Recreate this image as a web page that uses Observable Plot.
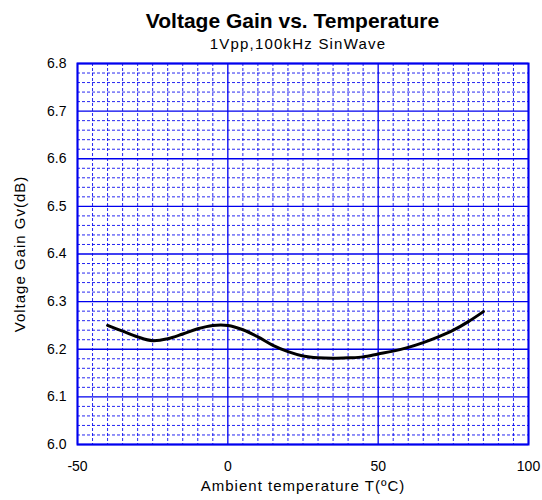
<!DOCTYPE html>
<html>
<head>
<meta charset="utf-8">
<script src="https://cdn.jsdelivr.net/npm/d3@7"></script>
<script src="https://cdn.jsdelivr.net/npm/@observablehq/plot@0.6"></script>
<style>
  html, body { margin: 0; padding: 0; background: #fff; }
  #wrap { position: relative; width: 542px; height: 500px; font-family: "Liberation Sans", Arial, sans-serif; }
  #title { position: absolute; top: 9.5px; left: 0; width: 585px; text-align: center; font-weight: bold; font-size: 21px; line-height: 21px; color: #000; white-space: nowrap; }
  #subtitle { position: absolute; top: 35.6px; left: 0; width: 596px; text-align: center; font-size: 15px; line-height: 15px; letter-spacing: 1.2px; color: #000; white-space: nowrap; }
  #chart { position: absolute; top: 0; left: 0; }
</style>
</head>
<body>
<div id="wrap">
  <div id="chart"></div>
  <div id="title">Voltage Gain vs. Temperature</div>
  <div id="subtitle">1Vpp,100kHz SinWave</div>
</div>
<script>
const temperature = [-40, -35, -30, -25, -20, -15, -10, -5, 0, 5, 10, 15, 20, 25, 30, 35, 40, 45, 50, 55, 60, 65, 70, 75, 80, 85];
const gain = [6.250, 6.238, 6.226, 6.218, 6.222, 6.232, 6.243, 6.250, 6.250, 6.241, 6.226, 6.208, 6.195, 6.186, 6.182, 6.181, 6.182, 6.184, 6.190, 6.196, 6.204, 6.214, 6.226, 6.240, 6.258, 6.279];
const xMajorTicks = [-50, 0, 50, 100];
const yMajorTicks = [6.0, 6.1, 6.2, 6.3, 6.4, 6.5, 6.6, 6.7, 6.8];
const xMinorTicks = d3.range(-45, 100, 5).filter(v => v % 50 !== 0);
const yMinorTicks = d3.range(0, 41).map(i => +(6.0 + i * 0.02).toFixed(2)).filter((v, i) => i % 5 !== 0);
const xLabel = "Ambient temperature T(ºC)";
const yLabel = "Voltage Gain Gv(dB)";

const data = temperature.map((t, i) => ({t, g: gain[i]}));
const blue = "#0000ee";
const labelFont = {fontSize: 15, fill: "#000", fontFamily: "Liberation Sans, Arial, sans-serif"};

const plot = Plot.plot({
  width: 542,
  height: 500,
  marginLeft: 77,
  marginRight: 14,
  marginTop: 63,
  marginBottom: 56,
  style: {fontFamily: "Liberation Sans, Arial, sans-serif", fontSize: "14px", color: "#000", background: "transparent"},
  x: {domain: [-50, 100]},
  y: {domain: [6.0, 6.8]},
  marks: [
    Plot.ruleX(xMinorTicks, {stroke: blue, strokeWidth: 1, strokeDasharray: "3,2", strokeOpacity: 0.85}),
    Plot.ruleY(yMinorTicks, {stroke: blue, strokeWidth: 1, strokeDasharray: "3,2", strokeOpacity: 0.85}),
    Plot.ruleX(xMajorTicks, {stroke: blue, strokeWidth: 1.3}),
    Plot.ruleY(yMajorTicks, {stroke: blue, strokeWidth: 1.3}),
    Plot.frame({stroke: blue, strokeWidth: 2}),
    Plot.axisX(xMajorTicks, {tickSize: 0, tickPadding: 17, fontSize: 14, tickFormat: d => String(d), label: null}),
    Plot.axisY(yMajorTicks, {tickSize: 0, tickPadding: 11, fontSize: 14, tickFormat: d3.format(".1f"), label: null}),
    Plot.text([xLabel], {text: d => d, frameAnchor: "bottom", lineAnchor: "bottom", dy: 46.7, ...labelFont, style: "letter-spacing:1px"}),
    Plot.text([yLabel], {text: d => d, frameAnchor: "left", lineAnchor: "bottom", textAnchor: "middle", rotate: -90, dx: -52.5, ...labelFont}),
    Plot.line(data, {x: "t", y: "g", stroke: "#000", strokeWidth: 3, curve: "catmull-rom"})
  ]
});
plot.querySelectorAll("text").forEach(t => {
  const s = t.textContent;
  if (s === xLabel || s === yLabel) t.setAttribute("letter-spacing", "1px");
});
document.getElementById("chart").appendChild(plot);
</script>
</body>
</html>
